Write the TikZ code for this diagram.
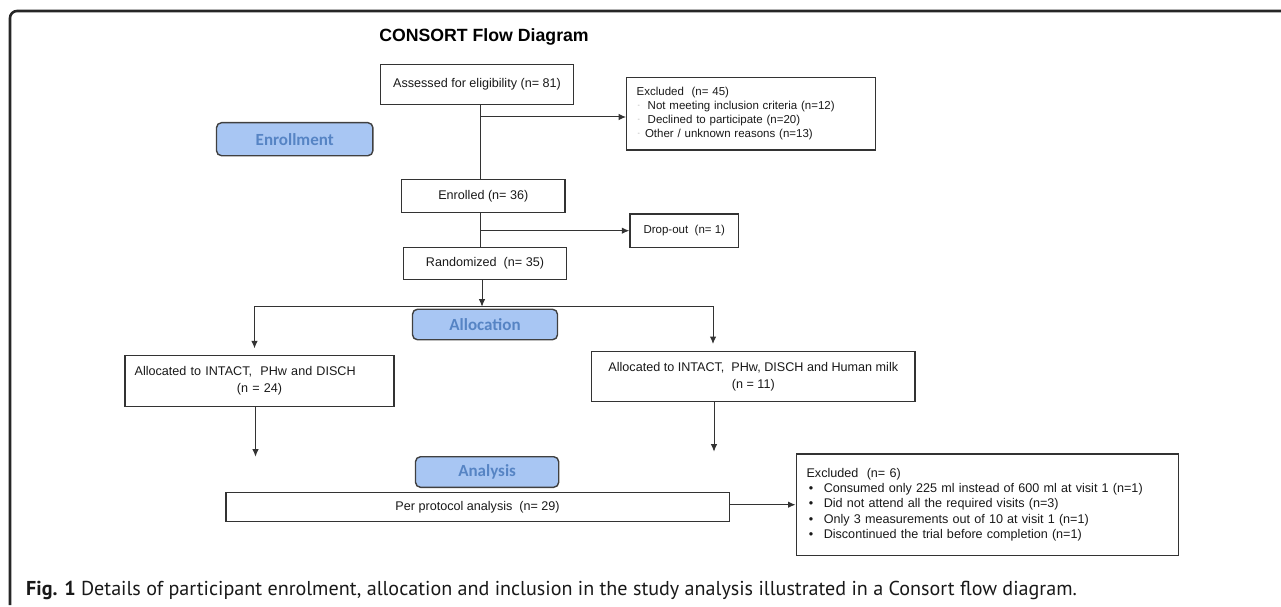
\documentclass[tikz,border=0pt]{standalone}
\usepackage{fontspec}
\setmainfont{Liberation Sans}
\newfontfamily\calfont{Carlito}
\newfontfamily\capfont{PT Sans}
\usetikzlibrary{arrows.meta}
\definecolor{stagefill}{RGB}{168,198,243}
\definecolor{stagetext}{RGB}{86,132,196}
\newcommand{\dsh}[1]{\hspace*{1pt}\makebox[#1][l]{\raisebox{2pt}{\textcolor{black!35}{\fontsize{7}{7}\selectfont -}}}}
\newcommand{\blt}{\hspace*{2.4pt}\makebox[14.8pt][l]{\textbullet}}
\begin{document}
\begin{tikzpicture}[x=1pt,y=-1pt,
    box/.style={draw=black!80,line width=1.3pt,inner sep=0,text=black!90,font=\fontsize{12.6}{17}\selectfont},
    small/.style={font=\fontsize{11.5}{14}\selectfont},
    stage/.style={draw=black!75,line width=1.4pt,rounded corners=5pt,fill=stagefill,text=stagetext,inner sep=0,font=\calfont\bfseries\fontsize{17}{17}\selectfont},
    lnk/.style={draw=black!80,line width=1pt},
    arr/.style={lnk,-{Latex[length=7.5pt,width=6.5pt]}}]
    \useasboundingbox (0,0) rectangle (1281,607);
    \draw[line width=2.6pt,black!85,rounded corners=7pt] (1290,11) -- (10,11) -- (10,605);
    \node[font=\bfseries\fontsize{17.7}{17.7}\selectfont] (title) at (484,36.7) {CONSORT Flow Diagram};
    % enrolment
    \node[box,minimum width=193,minimum height=40.4] (assess) at (477,84.5) {Assessed for eligibility (n= 81)};
    \node[stage,minimum width=156.4,minimum height=33] (enrolment) at (294.7,139.2) {Enrollment};
    \node[box,small,text width=229,inner xsep=10,minimum height=72.7,align=left] (excl45) at (751.2,113.65)
      {Excluded \ (n= 45)\\\dsh{10pt}Not meeting inclusion criteria (n=12)\\\dsh{10pt}Declined to participate (n=20)\\\dsh{7.3pt}Other / unknown reasons (n=13)};
    \node[box,minimum width=163.3,minimum height=33.4] (enrol) at (483.3,196) {Enrolled (n= 36)};
    \node[box,small,minimum width=108.7,minimum height=33.3] (drop) at (684.3,230.7) {Drop-out \ (n= 1)};
    \node[box,minimum width=163.4,minimum height=32] (rand) at (485,263.3) {Randomized \ (n= 35)};
    \coordinate (spine) at (480,0);
    \coordinate (b1) at (480,117);
    \draw[lnk] (spine |- assess.south) -- (spine |- enrol.north);
    \draw[arr] (b1) -- (b1 -| excl45.west);
    \draw[lnk] (spine |- enrol.south) -- (spine |- rand.north);
    \draw[arr] (spine |- drop.west) -- (drop.west);
    % allocation
    \node[stage,minimum width=145,minimum height=30.5] (alloc) at (485,324.5) {Allocation};
    \node[box,text width=249.7,inner xsep=9.6,minimum height=51,align=left] (allocA) at (259.5,381.2)
      {Allocated to INTACT, \ PHw and DISCH\\\makebox[249.7pt]{(n = 24)}};
    \node[box,minimum width=323.3,minimum height=50,align=center] (allocB) at (753.3,376.7)
      {Allocated to INTACT, \ PHw, DISCH and Human milk\\(n = 11)};
    \coordinate (split) at (482,306.7);
    \coordinate (tipA) at (254.5,348.3);
    \coordinate (tipB) at (713,344);
    \draw[arr] (split |- rand.south) -- (split);
    \draw[arr] (split) -| (tipA);
    \draw[arr] (split) -| (tipB);
    % analysis
    \node[stage,minimum width=143.2,minimum height=30.6] (analysis) at (487.1,472) {Analysis};
    \node[box,minimum width=503.3,minimum height=29.4] (perprot) at (477.6,507) {Per protocol analysis \ (n= 29)};
    \node[box,font=\fontsize{12.6}{15.3}\selectfont,text width=361.5,inner xsep=10.4,minimum height=101.3,align=left] (excl6) at (987.3,504.7)
      {Excluded \ (n= 6)\\\blt Consumed only 225 ml instead of 600 ml at visit 1 (n=1)\\\blt Did not attend all the required visits (n=3)\\\blt Only 3 measurements out of 10 at visit 1 (n=1)\\\blt Discontinued the trial before completion (n=1)};
    \coordinate (tipC) at (255.5,456.7);
    \coordinate (tipD) at (714,451.7);
    \draw[arr] (allocA.south -| tipC) -- (tipC);
    \draw[arr] (allocB.south -| tipD) -- (tipD);
    \draw[arr] (excl6.west -| perprot.east) -- (excl6.west);
    \node[anchor=west,inner sep=0,text=black!90,font=\capfont\fontsize{20.1}{20.1}\selectfont] (caption) at (26,590)
      {\textbf{Fig. 1} Details of participant enrolment, allocation and inclusion in the study analysis illustrated in a Consort flow diagram.};
\end{tikzpicture}
\end{document}
